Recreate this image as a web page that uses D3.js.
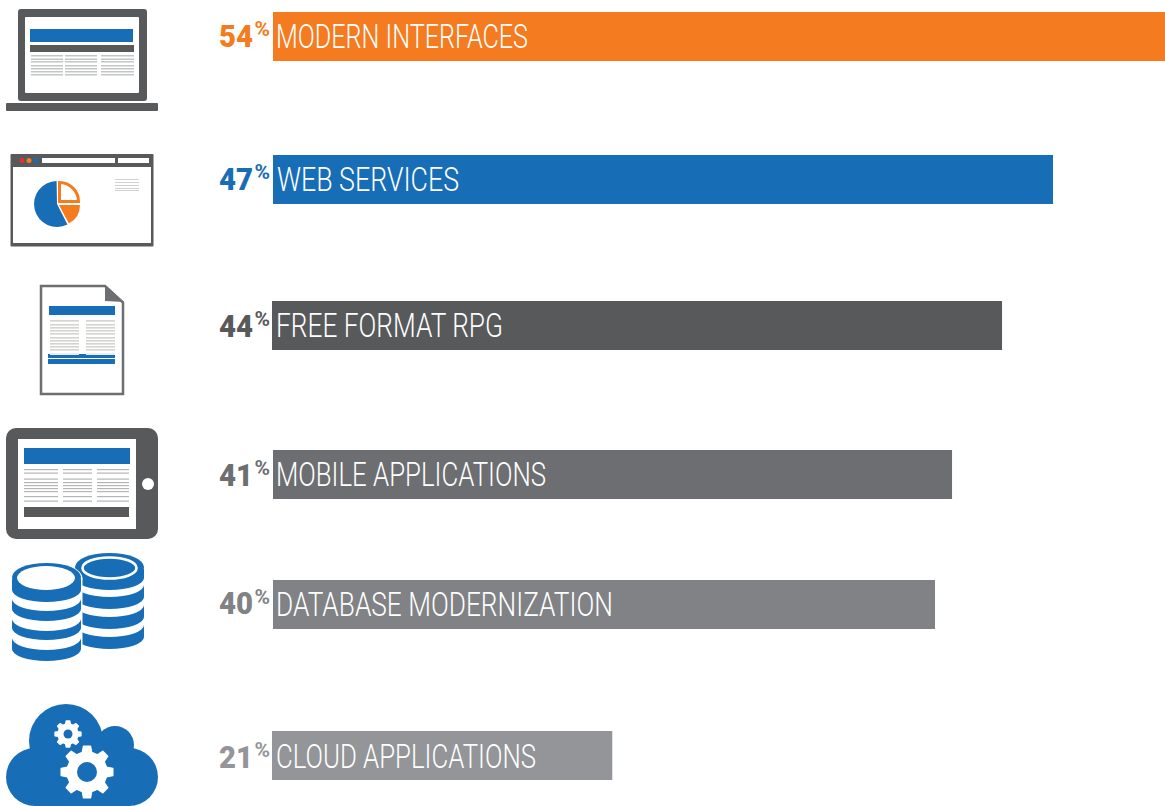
<!DOCTYPE html>
<html>
<head>
<meta charset="utf-8">
<script src="https://cdn.jsdelivr.net/npm/d3@7/dist/d3.min.js"></script>
<style>
html,body{margin:0;padding:0;background:#fff;overflow:hidden}
svg{display:block}
text{font-family:Roboto,"Liberation Sans",sans-serif}
</style>
</head>
<body>
<svg id="chart" width="1165" height="806"></svg>
<script>
// ---- data ----
const categories = ["MODERN INTERFACES","WEB SERVICES","FREE FORMAT RPG","MOBILE APPLICATIONS","DATABASE MODERNIZATION","CLOUD APPLICATIONS"];
const percentLabels = [54,47,44,41,40,21];
const barLengths = [53.9,47.13,44.05,41.03,40,20.5];   // lengths as drawn in the picture
const barColors = ["#f47b20","#176db6","#58595b","#6d6e71","#808285","#939598"];

// ---- layout ----
const rowTops = [12,155,301,450,580,731];
const barHeight = 49;
const barStarts = [273,273,272,273,273,272];
const labelStarts = [276,277,276,276,276,276];
const labelWidths = [252,182,227,270,337,260];
const labelBase = [35.5,36,36,36,35.5,37];
const numberBase = [34.5,34.5,35.5,35.5,34,36.5];
const x = d3.scaleLinear().domain([0,54]).range([0,893.7]);

const svg = d3.select("#chart");
const BLUE="#176db6", DARK="#58595b", ORANGE="#f47b20", GREY="#6d6e71", LINE="#c4c5c5";

// ---- bars ----
const rows = svg.append("g").selectAll("g").data(categories).join("g");
rows.append("rect")
  .attr("x",(d,i)=>barStarts[i]).attr("y",(d,i)=>rowTops[i])
  .attr("width",(d,i)=>x(barLengths[i])+(273-barStarts[i])).attr("height",barHeight)
  .attr("fill",(d,i)=>barColors[i]);
rows.append("text")
  .attr("x",(d,i)=>labelStarts[i]).attr("y",(d,i)=>rowTops[i]+labelBase[i])
  .attr("font-size",32.5).attr("font-weight",300).attr("fill","#fff")
  .attr("textLength",(d,i)=>labelWidths[i]).attr("lengthAdjust","spacingAndGlyphs")
  .text(d=>d);
rows.append("text")
  .attr("x",219).attr("y",(d,i)=>rowTops[i]+numberBase[i])
  .attr("font-size",32).attr("font-weight",900).attr("fill",(d,i)=>barColors[i])
  .attr("textLength",34).attr("lengthAdjust","spacingAndGlyphs")
  .text((d,i)=>percentLabels[i]);
rows.append("text")
  .attr("x",254.5).attr("y",(d,i)=>rowTops[i]+numberBase[i]-10.5)
  .attr("font-size",20).attr("font-weight",700).attr("fill",(d,i)=>barColors[i])
  .attr("textLength",15.5).attr("lengthAdjust","spacingAndGlyphs")
  .text("%");

// ---- icon helpers ----
const icons = svg.append("g");
function R(x0,y0,x1,y1,fill,rx){
  return icons.append("rect").attr("x",x0).attr("y",y0).attr("width",x1-x0).attr("height",y1-y0).attr("fill",fill).attr("rx",rx||0);
}
function lines(x0,x1,ys,color,h){
  ys.forEach(y=>R(x0,y,x1,y+(h||1.5),color||LINE));
}

// laptop
R(18,9,147,101,DARK,3);
R(25,17,139,93,"#fff",1);
R(30,29,133,42,BLUE);
R(30,45,134,52,DARK);
[[31,63],[65,97],[101,134]].forEach(c=>lines(c[0],c[1],[55,58.5,61,65,68,71,74],LINE));
R(6,103,158,111,DARK,1);

// browser
R(10.5,154,153.5,246.5,DARK,1);
R(13,167,151,243,"#fff");
[[22,"#e2322b"],[29,ORANGE],[36,BLUE]].forEach(d=>icons.append("circle").attr("cx",d[0]).attr("cy",160.5).attr("r",2.5).attr("fill",d[1]));
R(42,158,115,163,"#fff");
R(118,158,149,163,"#fff");
lines(115,139,[179,182,185,188,190],"#d0d1d0",1);
const arc = d3.arc();
const rad = Math.PI/180;
icons.append("path").attr("transform","translate(57,204)").attr("fill",BLUE)
  .attr("d",arc({innerRadius:0,outerRadius:23,startAngle:153*rad,endAngle:359*rad}));
icons.append("path").attr("transform","translate(59,205)").attr("fill",ORANGE)
  .attr("d",arc({innerRadius:0,outerRadius:21,startAngle:90*rad,endAngle:152*rad}));
icons.append("path").attr("transform","translate(59.5,201.5)").attr("fill","#fff").attr("stroke",ORANGE).attr("stroke-width",3)
  .attr("d",arc({innerRadius:0,outerRadius:19,startAngle:0,endAngle:90*rad}));

// document
icons.append("path").attr("d","M41,286H105L123,302.5V394H41Z").attr("fill","#fff").attr("stroke",GREY).attr("stroke-width",2.5);
icons.append("path").attr("d","M105,285L124,302L105,301Z").attr("fill",GREY);
R(49,306,115,315,BLUE);
R(48,354,115,358,BLUE);
R(48,359,115,364,BLUE);
[[50,79],[86,115]].forEach(c=>{
  lines(c[0],c[1],[320,324,327,330,333,337,340,343,346,349],"#d3d5d0",1.6);
  R(c[0],353,c[1],355,"#eeeeee");
});

// tablet
R(6,428,158,539,DARK,10);
R(18,439,136,529,"#fff");
R(24,448,130,464,BLUE);
R(24,507,129,517,DARK);
[[24,58],[63,92],[97,129]].forEach(c=>lines(c[0],c[1],[469,472.5,478.5,482,485,488,491,496,500.5],"#b4b5b6",1.2));
icons.append("circle").attr("cx",148).attr("cy",484).attr("r",6).attr("fill","#fff");

// database
function band(cx,rx,ry,y1,y2,fill){
  icons.append("path").attr("fill",fill)
    .attr("d",`M${cx-rx},${y1}A${rx},${ry} 0 0 0 ${cx+rx},${y1}V${y2}A${rx},${ry} 0 0 1 ${cx-rx},${y2}Z`);
}
// right stack
icons.append("ellipse").attr("cx",109.5).attr("cy",567).attr("rx",34.5).attr("ry",14).attr("fill",BLUE);
band(109.5,34.5,12,567,578,BLUE);
[[585,597],[605,617],[625,637]].forEach(b=>band(109.5,34.5,12,b[0],b[1],BLUE));
icons.append("ellipse").attr("cx",109.5).attr("cy",568).attr("rx",27).attr("ry",10.5).attr("fill",BLUE).attr("stroke","#fff").attr("stroke-width",2.6);
// left stack
icons.append("ellipse").attr("cx",46.5).attr("cy",578).attr("rx",36).attr("ry",16).attr("fill","#fff");
R(10.5,578,82.5,650,"#fff");
icons.append("ellipse").attr("cx",46.5).attr("cy",577).attr("rx",34.5).attr("ry",14).attr("fill",BLUE);
band(46.5,34.5,12,577,590,BLUE);
[[599,609],[619,628],[638,649]].forEach(b=>band(46.5,34.5,12,b[0],b[1],BLUE));
icons.append("ellipse").attr("cx",46).attr("cy",578).attr("rx",29).attr("ry",12).attr("fill","#fff");

// cloud
[[66,741,37],[35,777,29],[129,777,29],[115,745,19]].forEach(c=>
  icons.append("circle").attr("cx",c[0]).attr("cy",c[1]).attr("r",c[2]).attr("fill",BLUE));
R(35,750,129,806,BLUE);
R(66,735,115,760,BLUE);
function gear(cx,cy,rOut,rIn,hole,teeth){
  const step=2*Math.PI/teeth, pts=[];
  for(let i=0;i<teeth;i++){
    const a=i*step;
    [[-.30,rIn],[-.17,rOut],[.17,rOut],[.30,rIn]].forEach(p=>{
      const t=a+p[0]*step;
      pts.push([cx+p[1]*Math.sin(t),cy-p[1]*Math.cos(t)]);
    });
  }
  icons.append("path").attr("d",d3.line().curve(d3.curveLinearClosed)(pts)).attr("fill","#fff").attr("stroke","#fff").attr("stroke-width",1.5).attr("stroke-linejoin","round");
  icons.append("circle").attr("cx",cx).attr("cy",cy).attr("r",hole).attr("fill",BLUE);
}
gear(68,734,13,10,4.5,8);
gear(87,772,26,20,10,8);
</script>
</body>
</html>
